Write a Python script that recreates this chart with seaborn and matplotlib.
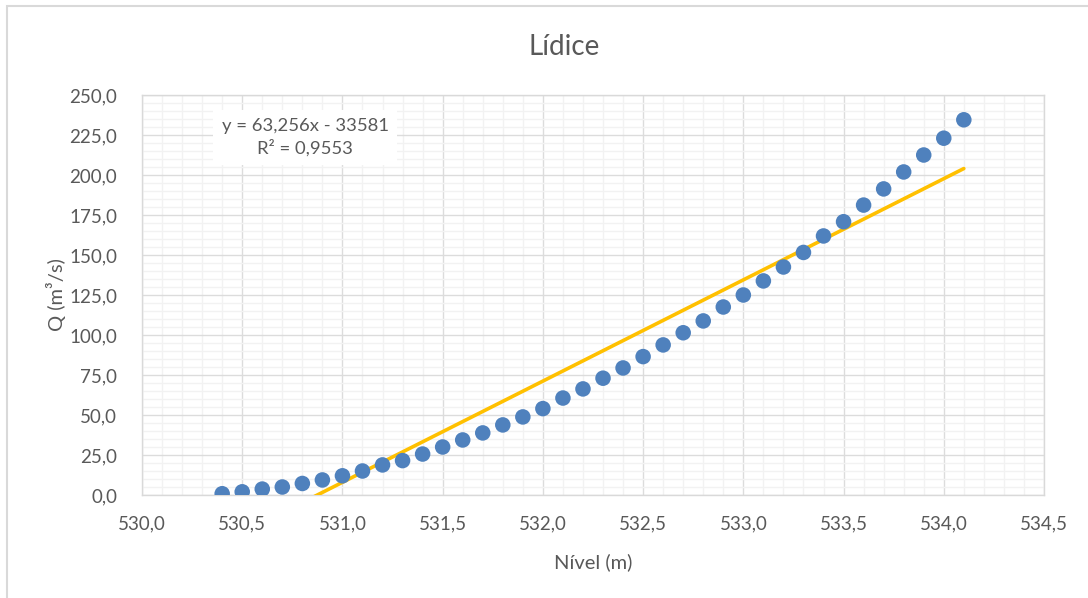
import numpy as np
import pandas as pd
import matplotlib
matplotlib.use("Agg")
import matplotlib.pyplot as plt
from matplotlib.ticker import MultipleLocator, FixedLocator
from matplotlib.patches import Rectangle
import seaborn as sns

# ---------------- data ----------------
nivel = [530.4, 530.5, 530.6, 530.7, 530.8, 530.9, 531.0, 531.1, 531.2, 531.3,
         531.4, 531.5, 531.6, 531.7, 531.8, 531.9, 532.0, 532.1, 532.2, 532.3,
         532.4, 532.5, 532.6, 532.7, 532.8, 532.9, 533.0, 533.1, 533.2, 533.3,
         533.4, 533.5, 533.6, 533.7, 533.8, 533.9, 534.0, 534.1]
vazao = [0.8, 2.0, 3.7, 5.0, 7.2, 9.4, 12.0, 15.0, 18.8, 21.5,
         25.6, 30.0, 34.4, 38.8, 43.8, 48.8, 54.0, 60.6, 66.3, 73.0,
         79.4, 86.5, 93.8, 101.4, 108.8, 117.5, 125.0, 133.8, 142.5, 151.6,
         161.9, 170.8, 181.2, 191.3, 201.9, 212.5, 223.0, 234.5]
trend_slope = 63.256
trend_intercept = -33581.0
equation_text = "y = 63,256x - 33581\nR² = 0,9553"
title_text = "Lídice"
xlabel_text = "Nível (m)"
ylabel_text = "Q (m³/s)"
xtick_values = [530.0, 530.5, 531.0, 531.5, 532.0, 532.5, 533.0, 533.5, 534.0, 534.5]
xtick_labels = ["530,0", "530,5", "531,0", "531,5", "532,0", "532,5", "533,0", "533,5", "534,0", "534,5"]
ytick_values = [0, 25, 50, 75, 100, 125, 150, 175, 200, 225, 250]
ytick_labels = ["0,0", "25,0", "50,0", "75,0", "100,0", "125,0", "150,0", "175,0", "200,0", "225,0", "250,0"]

df = pd.DataFrame({"Nivel": nivel, "Q": vazao})
trend_x = [min(nivel), max(nivel)]
trend_df = pd.DataFrame({"Nivel": trend_x,
                         "Q": [trend_slope * v + trend_intercept for v in trend_x]})

# ---------------- style ----------------
sns.set_theme(style="white")
plt.rcParams["font.family"] = ["Lato", "DejaVu Sans"]
text_color = "#595959"

fig = plt.figure(figsize=(10.88, 5.98), dpi=100)
fig.patch.set_facecolor("white")
# outer chart border (cut off at right/bottom as in reference)
fig.add_artist(Rectangle((7 / 1088, -0.05), 1.2, 1 - 6 / 598 + 0.05,
                         transform=fig.transFigure, fill=False,
                         edgecolor="#d9d9d9", linewidth=1.5))

ax = fig.add_axes([142 / 1088, (598 - 495) / 598, 902 / 1088, 400 / 598])

sns.lineplot(data=trend_df, x="Nivel", y="Q", ax=ax, color="#FFC000",
             linewidth=2.6, zorder=3)
sns.scatterplot(data=df, x="Nivel", y="Q", ax=ax, color="#4F81BD",
                s=125, edgecolor="none", zorder=4)

ax.set_xlim(530.0, 534.5)
ax.set_ylim(0, 250)
ax.xaxis.set_major_locator(FixedLocator(xtick_values))
ax.yaxis.set_major_locator(FixedLocator(ytick_values))
ax.set_xticklabels(xtick_labels)
ax.set_yticklabels(ytick_labels)
ax.xaxis.set_minor_locator(MultipleLocator(0.1))
ax.yaxis.set_minor_locator(MultipleLocator(5))
ax.grid(which="minor", color="#f2f2f2", linewidth=1.0, zorder=0)
ax.grid(which="major", color="#dcdcdc", linewidth=1.0, zorder=1)
ax.set_axisbelow(True)
ax.tick_params(which="both", length=0, labelsize=13.5, colors=text_color)
ax.tick_params(axis="x", pad=15)
ax.tick_params(axis="y", pad=18)
for sp in ax.spines.values():
    sp.set_color("#d9d9d9")
    sp.set_linewidth(1.0)

ax.set_xlabel(xlabel_text, fontsize=14.5, color=text_color, labelpad=15)
ax.set_ylabel(ylabel_text, fontsize=14.5, color=text_color, labelpad=2)
fig.text(0.519, 1 - 47 / 598, title_text, ha="center", va="center",
         fontsize=20, color=text_color)

ax.text(530.815, 223.5, equation_text, ha="center", va="center",
        fontsize=13.3, color=text_color, linespacing=1.35, zorder=5,
        bbox=dict(facecolor="white", edgecolor="none", pad=6))

fig.savefig("out.png", dpi=100, facecolor="white")
